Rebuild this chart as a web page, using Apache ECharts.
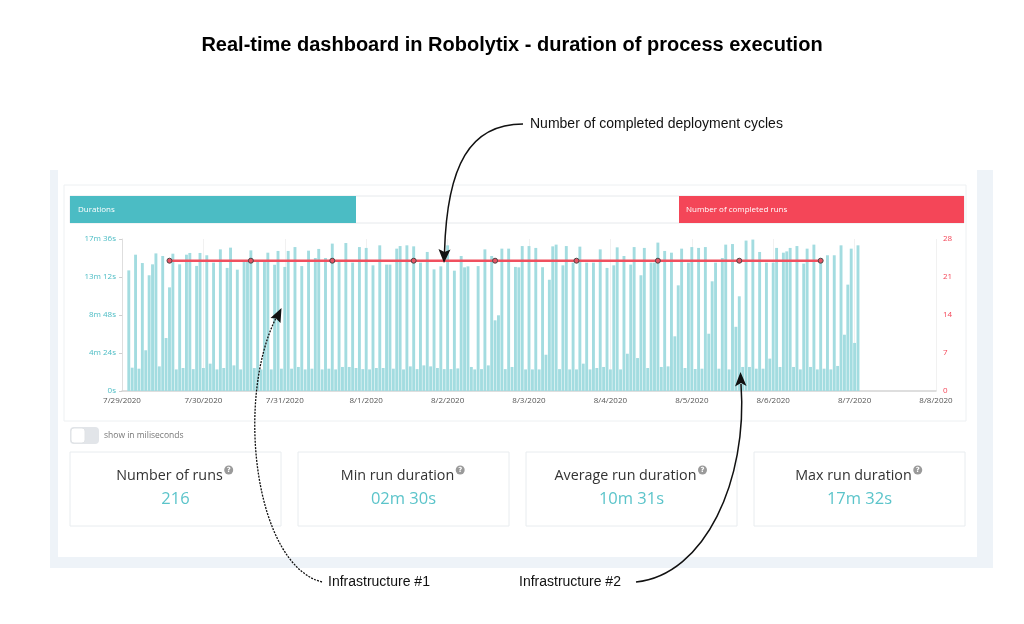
<!DOCTYPE html>
<html>
<head>
<meta charset="utf-8">
<script src="https://cdn.jsdelivr.net/npm/echarts@6.0.0/dist/echarts.min.js"></script>
<style>
html,body{margin:0;padding:0;background:#fff;}
#chart{width:1024px;height:624px;}
</style>
</head>
<body>
<div id="chart"></div>
<script>
// ---- DATA ----
// durations of each hourly run (seconds), one array per day (24 runs per day, first run 02:00)
const d0729 = [838,162,947,155,889,283,804,880,956,171,938,368,720,954,150,880,160,947,959,152,869,959,160,943];
const d0730 = [190,892,150,984,160,855,996,178,843,150,896,896,977,160,903,150,901,961,150,877,973,155,862,973];
const d0731 = [155,1000,167,868,150,975,155,924,987,150,924,155,1024,150,896,167,1028,167,892,160,1000,152,994,150];
const d0801 = [873,160,1012,160,878,878,155,989,1007,150,1012,171,1005,152,892,178,966,171,845,160,866,152,1012,152];
const d0802 = [836,157,938,859,866,167,150,868,152,984,178,938,491,526,989,152,989,167,862,859,1007,150,1007,150];
const d0803 = [994,150,860,252,773,1005,1017,152,873,1007,150,892,150,1003,190,892,150,892,160,984,167,855,150,873];
const d0804 = [998,150,938,259,878,1000,229,804,994,160,892,892,1031,167,973,171,961,380,734,989,160,892,1000,153];
const d0805 = [994,155,1000,398,762,892,155,924,1017,150,1021,446,658,167,1045,167,1052,155,966,155,892,225,892,994];
const d0806 = [167,961,970,994,167,1007,150,885,989,167,1017,150,896,155,943,150,943,174,1012,391,739,989,334,1012];
const dailyDurations = [d0729,d0730,d0731,d0801,d0802,d0803,d0804,d0805,d0806];

// number of completed runs per day
const completedRuns = [24,24,24,24,24,24,24,24,24];

// tick labels
const xTickLabels = ['7/29/2020','7/30/2020','7/31/2020','8/1/2020','8/2/2020','8/3/2020','8/4/2020','8/5/2020','8/6/2020','8/7/2020','8/8/2020'];
const durTickLabels = ['0s','4m 24s','8m 48s','13m 12s','17m 36s'];
const runTickLabels = ['0','7','14','21','28'];

// stats
const statTitles = ['Number of runs','Min run duration','Average run duration','Max run duration'];
const statValues = ['216','02m 30s','10m 31s','17m 32s'];

// ---- BUILD ----
const FIRST_RUN_HOUR = 2;
const barData = [];
dailyDurations.forEach((arr, d) => {
  arr.forEach((v, i) => barData.push([d * 24 + FIRST_RUN_HOUR + i, v]));
});
const lineData = completedRuns.map((v, d) => [d * 24 + 14, v]);

const TEAL = '#4bbcc4';
const RED = '#f44658';

const cv = document.createElement('canvas').getContext('2d');
function tw(text, font){ cv.font = font; return cv.measureText(text).width; }

function bez(x1,y1,c1x,c1y,c2x,c2y,x2,y2,extra){
  return Object.assign({type:'bezierCurve', z:100,
    shape:{x1:x1,y1:y1,cpx1:c1x,cpy1:c1y,cpx2:c2x,cpy2:c2y,x2:x2,y2:y2},
    style:{fill:null, stroke:'#111', lineWidth:1.5}}, extra || {});
}

const graphic = [];
// dashboard backgrounds
graphic.push({type:'rect', z:-20, shape:{x:50,y:170,width:943,height:398}, style:{fill:'#eef3f8'}});
graphic.push({type:'rect', z:-19, shape:{x:58,y:170,width:919,height:387}, style:{fill:'#ffffff'}});
// chart container
graphic.push({type:'rect', z:-18, shape:{x:64,y:185,width:902,height:236}, style:{fill:'#fff', stroke:'#edf0f2', lineWidth:1}});
// header row
graphic.push({type:'rect', z:-17, shape:{x:70,y:196,width:894,height:27}, style:{fill:'#fff', stroke:'#e6e9ec', lineWidth:1}});
graphic.push({type:'rect', z:-16, shape:{x:70,y:196,width:286,height:27}, style:{fill:TEAL}});
graphic.push({type:'rect', z:-16, shape:{x:679,y:196,width:285,height:27}, style:{fill:RED}});
graphic.push({type:'text', z:10, style:{x:78,y:210,text:'Durations',fill:'#fff',font:'8px "Open Sans"',textVerticalAlign:'middle'}});
graphic.push({type:'text', z:10, style:{x:686,y:210,text:'Number of completed runs',fill:'#fff',font:'8px "Open Sans"',textVerticalAlign:'middle'}});
// toggle
graphic.push({type:'rect', z:-10, shape:{x:70,y:427,width:29,height:17,r:4}, style:{fill:'#e2e5e9'}});
graphic.push({type:'rect', z:-9, shape:{x:71,y:428,width:14,height:15,r:3}, style:{fill:'#fff', stroke:'#e0e3e6'}});
graphic.push({type:'text', z:10, style:{x:104,y:436,text:'show in miliseconds',fill:'#777',font:'8.5px "Open Sans"',textVerticalAlign:'middle'}});
// stat cards
const cardX = [70,298,526,754];
cardX.forEach((x, i) => {
  graphic.push({type:'rect', z:-10, shape:{x:x,y:452,width:211,height:74}, style:{fill:'#fff', stroke:'#e8ecef', lineWidth:1}});
  const cx = x + 105.5;
  const tf = '14.3px "Open Sans"';
  const w = tw(statTitles[i], tf);
  const total = w + 12;
  const left = cx - total / 2;
  graphic.push({type:'text', z:10, style:{x:left,y:476,text:statTitles[i],fill:'#333',font:tf,textVerticalAlign:'middle'}});
  graphic.push({type:'circle', z:10, shape:{cx:left + w + 6, cy:470, r:4.5}, style:{fill:'#9a9a9a'}});
  graphic.push({type:'text', z:11, style:{x:left + w + 6, y:470.5, text:'?', fill:'#fff', font:'bold 7px "DejaVu Sans"', textAlign:'center', textVerticalAlign:'middle'}});
  graphic.push({type:'text', z:10, style:{x:cx,y:499,text:statValues[i],fill:'#5bc4ca',font:'16.5px "Open Sans"',textAlign:'center',textVerticalAlign:'middle'}});
});
// title
graphic.push({type:'text', z:10, style:{x:512,y:45,text:'Real-time dashboard in Robolytix - duration of process execution',fill:'#000',font:'bold 20px "Liberation Sans"',textAlign:'center',textVerticalAlign:'middle'}});
// annotations
const af = '14px "Liberation Sans"';
graphic.push({type:'text', z:10, style:{x:530,y:124,text:'Number of completed deployment cycles',fill:'#111',font:af,textVerticalAlign:'middle'}});
graphic.push({type:'text', z:10, style:{x:328,y:582,text:'Infrastructure #1',fill:'#111',font:af,textVerticalAlign:'middle'}});
graphic.push({type:'text', z:10, style:{x:519,y:582,text:'Infrastructure #2',fill:'#111',font:af,textVerticalAlign:'middle'}});
// arrows
graphic.push(bez(523,124, 470,124, 447,165, 444.5,252));
graphic.push({type:'polygon', z:100, shape:{points:[[444,263],[438.5,249],[444.5,252],[450.5,249.5]]}, style:{fill:'#111'}});
graphic.push(bez(322,582, 255,565, 235,400, 276,318, {style:{fill:null, stroke:'#111', lineWidth:1.3, lineDash:[2,1.2]}}));
graphic.push({type:'polygon', z:100, shape:{points:[[281.5,308],[280.5,323],[276,318.5],[270.5,318]]}, style:{fill:'#111'}});
graphic.push(bez(636,582, 705,575, 748,480, 741,384));
graphic.push({type:'polygon', z:100, shape:{points:[[740.5,372],[746.5,386],[741,383],[735,386.5]]}, style:{fill:'#111'}});

const option = {
  animation: false,
  backgroundColor: '#ffffff',
  graphic: graphic,
  grid: {left:122, right:88, top:239, height:152, containLabel:false},
  xAxis: {
    type:'value', min:0, max:240, interval:24,
    axisLine:{show:true, lineStyle:{color:'#d4d4d4', width:1.5}},
    axisTick:{show:false},
    splitLine:{show:true, lineStyle:{color:'#f1f1f1', width:1}},
    axisLabel:{color:'#555', fontSize:8, fontFamily:'Open Sans', margin:6,
      formatter:(v)=> xTickLabels[Math.round(v/24)] || ''}
  },
  yAxis: [
    {type:'value', min:0, max:1056, interval:264, position:'left',
      axisLine:{show:true, lineStyle:{color:'#dedede'}},
      axisTick:{show:true, length:3, lineStyle:{color:'#cfcfcf'}},
      splitLine:{show:false},
      axisLabel:{color:TEAL, fontSize:8, fontFamily:'Open Sans', margin:6,
        formatter:(v)=> durTickLabels[Math.round(v/264)]}
    },
    {type:'value', min:0, max:28, interval:7, position:'right',
      axisLine:{show:false}, axisTick:{show:false}, splitLine:{show:false},
      axisLabel:{color:RED, fontSize:8, fontFamily:'Open Sans', margin:7,
        formatter:(v)=> runTickLabels[Math.round(v/7)]}
    }
  ],
  series: [
    {type:'bar', name:'Durations', yAxisIndex:0, data:barData, barWidth:2.9,
      itemStyle:{color:'#a3dce0'}, z:2},
    {type:'line', name:'Number of completed runs', yAxisIndex:1, data:lineData, z:5,
      lineStyle:{color:'#f0505f', width:2.6},
      symbol:'circle', symbolSize:5,
      itemStyle:{color:'#e85263', borderColor:'#4a4a4a', borderWidth:1}}
  ]
};

const chart = echarts.init(document.getElementById('chart'), null, {renderer:'canvas'});
chart.setOption(option);
</script>
</body>
</html>
